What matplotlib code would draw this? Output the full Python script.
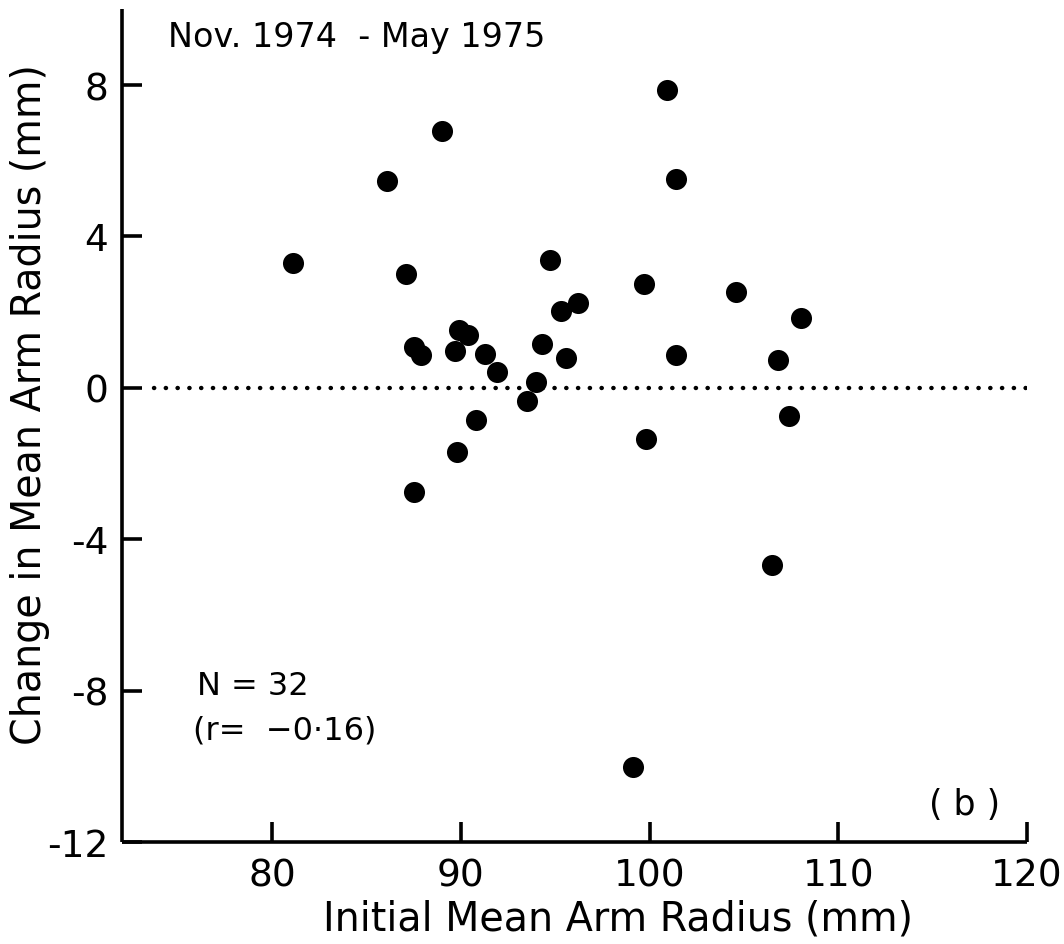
import matplotlib
matplotlib.use("Agg")
import matplotlib.pyplot as plt

# Data
initial_radius = [81.1, 86.1, 89.0, 87.1, 87.5, 87.9, 89.9, 90.4, 89.7, 91.3,
                  91.9, 94.0, 93.5, 90.8, 94.7, 95.3, 96.2, 94.3, 95.6, 89.8,
                  87.5, 100.9, 101.4, 99.7, 104.6, 108.0, 101.4, 106.8, 107.4,
                  99.8, 106.5, 99.1]
change_radius = [3.29, 5.46, 6.79, 3.02, 1.09, 0.87, 1.53, 1.40, 0.96, 0.89,
                 0.41, 0.16, -0.35, -0.85, 3.38, 2.04, 2.23, 1.17, 0.78, -1.69,
                 -2.74, 7.86, 5.53, 2.75, 2.54, 1.85, 0.86, 0.73, -0.74,
                 -1.35, -4.68, -10.03]
x_ticks = [80, 90, 100, 110, 120]
y_ticks = [-12, -8, -4, 0, 4, 8]

plt.rcParams['font.family'] = ['DejaVu Sans']

fig = plt.figure(figsize=(10.64, 9.45), dpi=100)
ax = fig.add_axes([0.1147, 0.108, 0.8505, 0.881])

ax.scatter(initial_radius, change_radius, s=230, color='black', zorder=3, linewidths=0)

ax.plot([73.75, 120], [0, 0], color='black', linewidth=3.2,
        linestyle=(0, (0.05, 2.6)), dash_capstyle='round', zorder=2)

ax.set_xlim(72.05, 120)
ax.set_ylim(-12, 10)
ax.set_xticks(x_ticks)
ax.set_yticks(y_ticks)
ax.set_xticklabels([str(v) for v in x_ticks])
ax.set_yticklabels([str(v) for v in y_ticks])

for s in ['top', 'right']:
    ax.spines[s].set_visible(False)
for s in ['left', 'bottom']:
    ax.spines[s].set_linewidth(2.6)
    ax.spines[s].set_capstyle('butt')

ax.tick_params(axis='both', direction='in', length=14.5, width=2.6, labelsize=27)
ax.tick_params(axis='y', pad=10)
ax.tick_params(axis='x', pad=11)

ax.set_xlabel('Initial Mean Arm Radius (mm)', fontsize=28.5)
ax.xaxis.label.set_va('baseline')
ax.xaxis.set_label_coords(0.548, -0.1056)

ax.set_ylabel('Change in Mean Arm Radius (mm)', fontsize=28.5)
ax.yaxis.label.set_va('center')
ax.yaxis.set_label_coords(-0.1017, 0.527)

ax.text(0.0508, 0.9556, 'Nov. 1974  - May 1975', transform=ax.transAxes,
        fontsize=24, va='baseline', ha='left')
ax.text(0.0829, 0.1777, 'N = 32', transform=ax.transAxes, fontsize=23,
        va='baseline', ha='left')
ax.text(0.0785, 0.1237, '(r=  \u22120\u00b716)', transform=ax.transAxes, fontsize=23,
        va='baseline', ha='left')
ax.text(0.970, 0.0336, '( b )', transform=ax.transAxes, fontsize=25,
        va='baseline', ha='right')

fig.savefig('out.png', dpi=100)
